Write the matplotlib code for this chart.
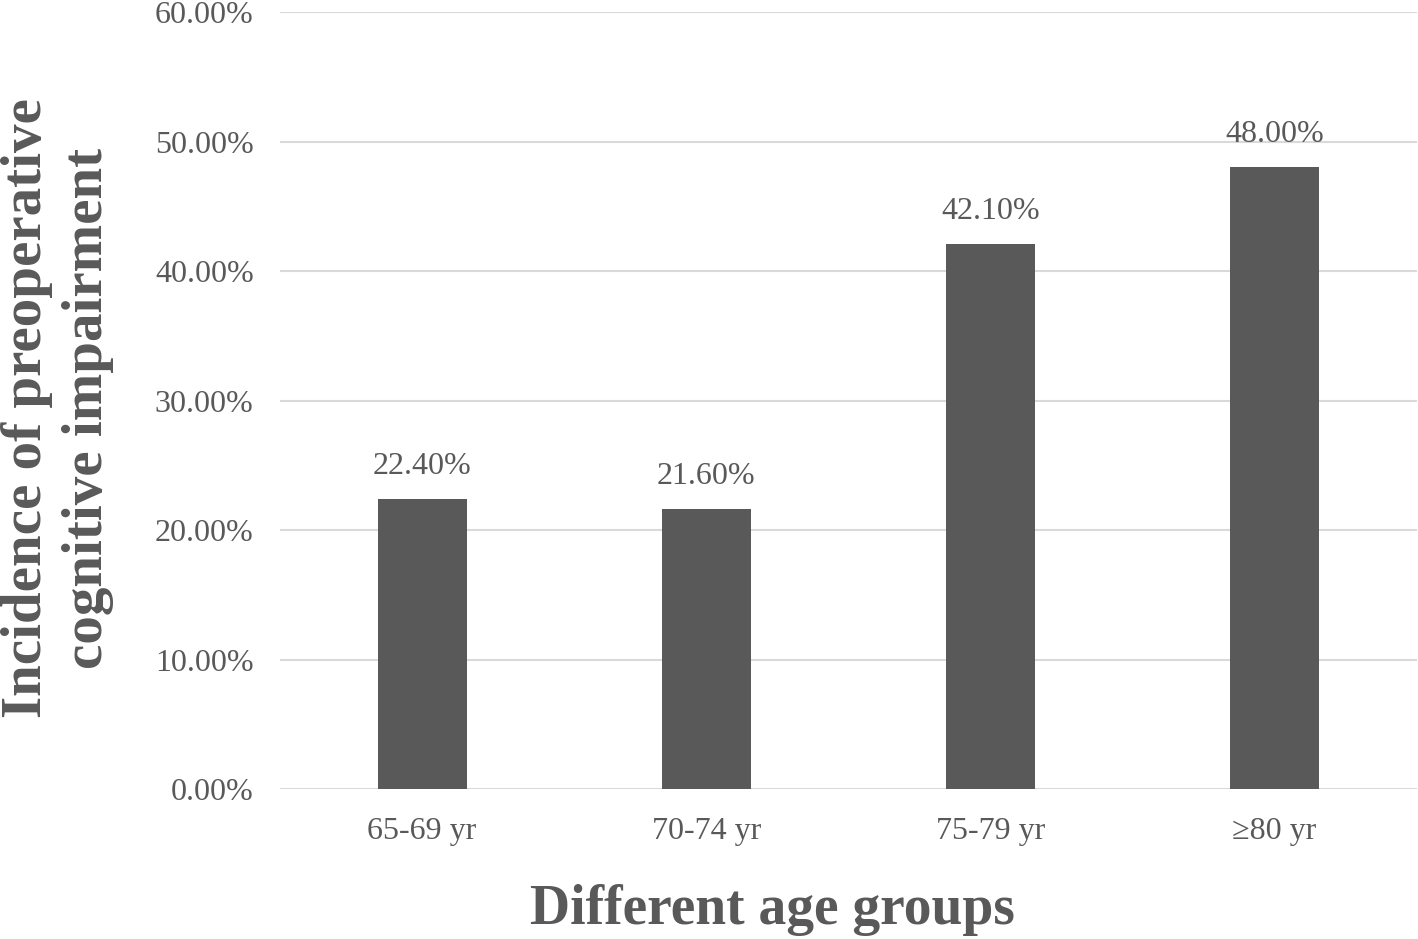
import matplotlib.pyplot as plt
import numpy as np
from matplotlib.ticker import FuncFormatter

plt.rcParams["font.family"] = ["Liberation Serif", "DejaVu Serif"]

groups = ["65-69 yr", "70-74 yr", "75-79 yr", "\u226580 yr"]
incidence = [22.40, 21.60, 42.10, 48.00]
yticks = [0, 10, 20, 30, 40, 50, 60]

BAR = "#595959"
GRID = "#d9d9d9"
TXT = "#595959"

fig = plt.figure(figsize=(14.18, 9.39), dpi=100)
ax = fig.add_axes([0.1975, 0.1597, 0.8015, 0.8275])

x = np.arange(len(groups))
bars = ax.bar(x, incidence, width=0.313, color=BAR, zorder=3)
for b, v in zip(bars, incidence):
    ax.text(b.get_x() + b.get_width() / 2, v + 1.4, f"{v:.2f}%",
            ha="center", va="bottom", fontsize=23, color=TXT)

ax.set_xlim(-0.5, len(groups) - 0.5)
ax.set_ylim(0, 60)
ax.set_yticks(yticks)
ax.yaxis.set_major_formatter(FuncFormatter(lambda v, p: f"{v:.2f}%"))
ax.set_xticks(x)
ax.set_xticklabels(groups)
ax.tick_params(axis="both", length=0, labelsize=23, labelcolor=TXT)
ax.tick_params(axis="y", pad=19)
ax.tick_params(axis="x", pad=20)
ax.grid(axis="y", color=GRID, lw=1.5, zorder=0)
for s in ax.spines.values():
    s.set_visible(False)

ax.set_xlabel("Different age groups", fontsize=40, fontweight="bold",
              color=TXT, va="center")
ax.xaxis.set_label_coords(0.433, -0.156)
ax.set_ylabel("Incidence of preoperative\ncognitive impairment", fontsize=41,
              fontweight="bold", color=TXT, linespacing=1.22, va="center")
ax.yaxis.set_label_coords(-0.196, 0.49)

fig.savefig("out.png", dpi=100)
